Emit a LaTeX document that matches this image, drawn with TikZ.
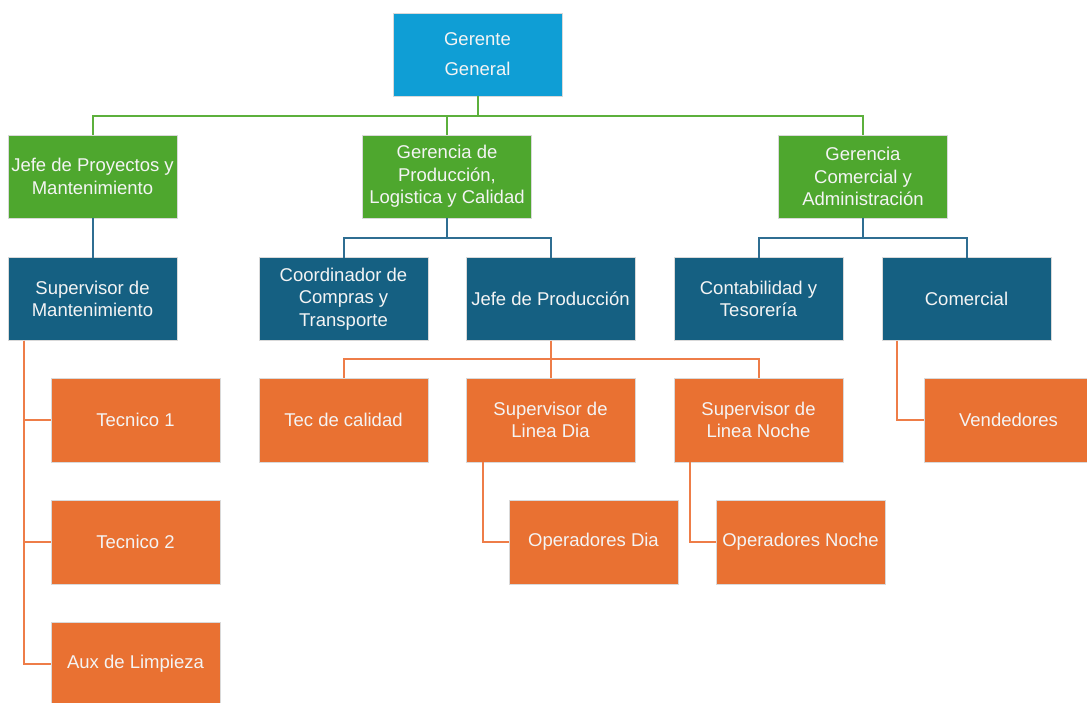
\documentclass[tikz,border=0pt]{standalone}
\usepackage{fontspec}
\setmainfont{Liberation Sans}
\definecolor{cgg}{HTML}{0F9ED5}
\definecolor{cgreen}{HTML}{4EA72E}
\definecolor{cblue}{HTML}{156082}
\definecolor{corange}{HTML}{E97132}
\definecolor{lgreen}{HTML}{5CB03C}
\definecolor{lblue}{HTML}{2F6E92}
\definecolor{lorange}{HTML}{EE7D48}
\definecolor{txt}{HTML}{F4F4F4}
\begin{document}
\begin{tikzpicture}[x=1pt,y=-1pt,
  box/.style={rectangle, draw=white!85!black, line width=0.6pt, minimum width=169pt, minimum height=83pt,
    inner sep=0pt, outer sep=0pt, align=center, text=txt,
    font=\fontsize{18.5}{22.5}\selectfont},
  ggbox/.style={box, fill=cgg},
  gbox/.style={box, fill=cgreen},
  bbox/.style={box, fill=cblue},
  obox/.style={box, fill=corange, minimum height=84pt},
  gline/.style={draw=lgreen, line width=2pt},
  bline/.style={draw=lblue, line width=2pt},
  oline/.style={draw=lorange, line width=2pt}]
\useasboundingbox[fill=white] (0,0) rectangle (1087,702);
% level 0
\node[ggbox] (gg) at (477.5,54.5) {Gerente\\[7.5pt]General};
% level 1
\node[gbox] (jp) at (92.5,176.5) {Jefe de Proyectos y\\Mantenimiento};
\node[gbox] (gp) at (447,176.5) {Gerencia de\\Producción,\\Logistica y Calidad};
\node[gbox] (gc) at (863,176.5) {Gerencia\\Comercial y\\Administración};
% level 2
\node[bbox] (sm) at (92.5,299) {Supervisor de\\Mantenimiento};
\node[bbox] (cc) at (343.5,299) {Coordinador de\\Compras y\\Transporte};
\node[bbox] (jpr) at (550.5,299) {Jefe de Producción};
\node[bbox] (ct) at (758.5,299) {Contabilidad y\\Tesorería};
\node[bbox] (co) at (966.5,299) {Comercial};
% level 3
\node[obox] (t1) at (135.5,420) {Tecnico 1};
\node[obox] (t2) at (135.5,542) {Tecnico 2};
\node[obox] (al) at (135.5,664) {Aux de Limpieza};
\node[obox] (tc) at (343.5,420) {Tec de calidad};
\node[obox] (sd) at (550.5,420) {Supervisor de\\Linea Dia};
\node[obox] (sn) at (758.5,420) {Supervisor de\\Linea Noche};
\node[obox] (od) at (593.5,542) {Operadores Dia};
\node[obox] (on) at (800.5,542) {Operadores Noche};
\node[obox] (ve) at (1008.5,420) {Vendedores};
% helper coordinates
\coordinate (bus1) at (0,116);
\coordinate (bus2) at (0,238);
\coordinate (bus3) at (0,359);
\coordinate (mx) at (24,0);
\coordinate (dx) at (483,0);
\coordinate (nx) at (690,0);
\coordinate (vx) at (897,0);
% green connectors
\draw[gline] (gg.south) -- (gg.south |- bus1) -| (jp.north);
\draw[gline] (gg.south |- bus1) -| (gp.north);
\draw[gline] (gg.south |- bus1) -| (gc.north);
% blue connectors
\draw[bline] (jp.south) -- (sm.north);
\draw[bline] (gp.south) -- (gp.south |- bus2) -| (cc.north);
\draw[bline] (gp.south |- bus2) -| (jpr.north);
\draw[bline] (gc.south) -- (gc.south |- bus2) -| (ct.north);
\draw[bline] (gc.south |- bus2) -| (co.north);
% orange connectors
\draw[oline] (sm.south -| mx) |- (al.west);
\draw[oline] (sm.south -| mx) |- (t1.west);
\draw[oline] (sm.south -| mx) |- (t2.west);
\draw[oline] (jpr.south) -- (jpr.south |- bus3) -| (tc.north);
\draw[oline] (jpr.south |- bus3) -| (sd.north);
\draw[oline] (jpr.south |- bus3) -| (sn.north);
\draw[oline] (sd.south -| dx) |- (od.west);
\draw[oline] (sn.south -| nx) |- (on.west);
\draw[oline] (co.south -| vx) |- (ve.west);
\end{tikzpicture}
\end{document}
